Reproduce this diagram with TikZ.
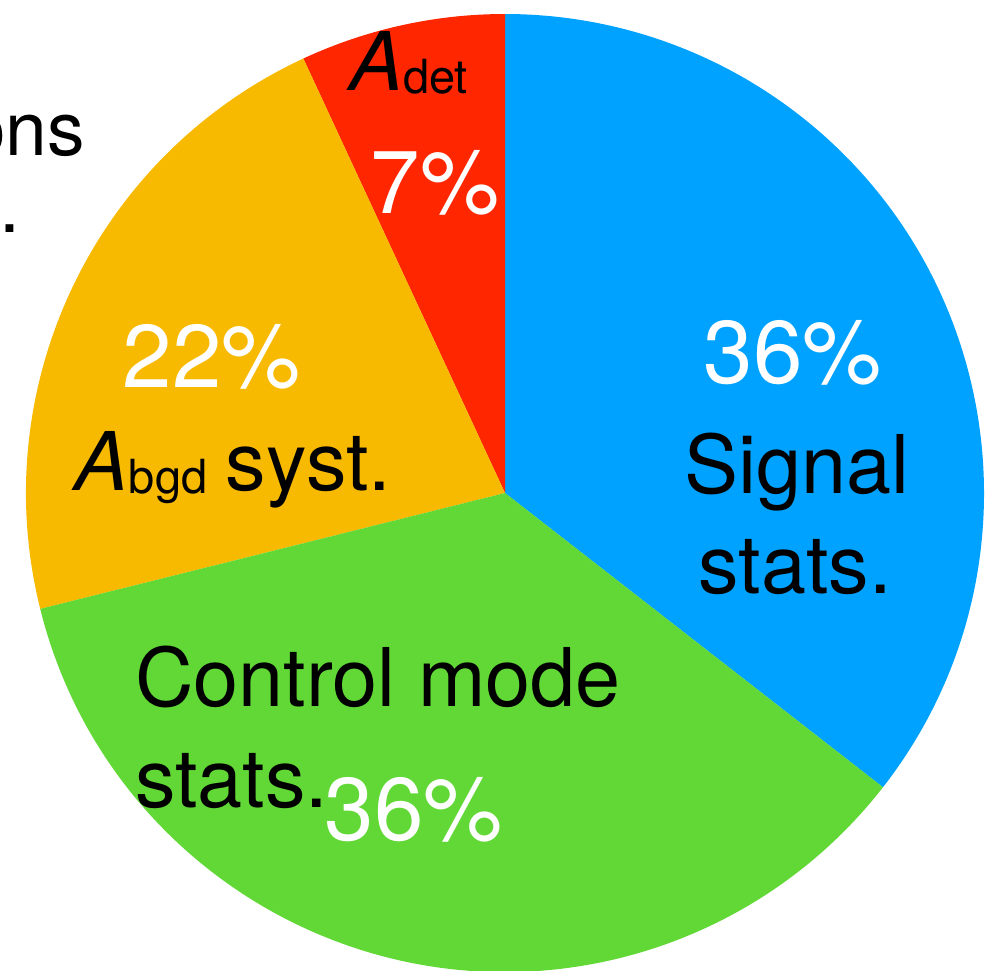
\documentclass[tikz,border=0pt]{standalone}
\usepackage{fontspec}
\setmainfont{TeX Gyre Heros}
\usetikzlibrary{positioning}

\definecolor{sigblue}{RGB}{0,162,255}
\definecolor{ctrlgreen}{RGB}{97,216,54}
\definecolor{bgdyellow}{RGB}{248,186,0}
\definecolor{detred}{RGB}{255,38,0}

\newcommand{\sublabel}[2]{{\itshape #1}{\fontsize{47}{47}\selectfont\raisebox{-3pt}{#2}}}

\begin{document}
\begin{tikzpicture}[
			x=1pt, y=1pt,
			every node/.style={inner sep=0pt, outer sep=0pt},
			lbltext/.style={font=\fontsize{81}{97}\selectfont, text=black},
			pct/.style={font=\fontsize{89}{100}\selectfont, text=white}
			]
			\useasboundingbox (0,0) rectangle (995,-970);
			\coordinate (C) at (505,-493);
			
			% slices: colour / start angle / end angle
			\foreach \col/\sa/\ea in {sigblue/-37.9/90, detred/90/114.9, bgdyellow/114.9/194.0, ctrlgreen/194.0/322.1}
			\fill[\col] (C) -- ++(\sa:479) arc[start angle=\sa, end angle=\ea, radius=479] -- cycle;
			
			% Signal stats.
			\node (pctsig) [pct, anchor=base] at (793,-383) {36\%};
			\node (sig1) [lbltext, anchor=base] at (797,-493) {Signal};
			\node (sig2) [lbltext, anchor=base] at (795,-593) {stats.};
			
			% A_det
			\node (adet) [lbltext, anchor=base west] at (349,-90) {\sublabel{A}{det}};
			\node (pctdet) [pct, anchor=base] at (435,-213) {7\%};
			
			% A_bgd syst.
			\node (pctbgd) [pct, anchor=base] at (212,-387) {22\%};
			\node (abgd) [lbltext, anchor=base] at (233,-490) {\sublabel{A}{bgd}\hspace{-4pt} syst.};
			
			% Control mode stats.
			\node (ctrl1) [lbltext, anchor=base west] at (135,-706) {Control mode};
			\node (ctrl2) [lbltext, anchor=base west] at (135,-807) {stats.};
			\node (pctctrl) [pct, anchor=base] at (414,-840) {36\%};
			
			% text cut off at the left edge
			\node (ons) [lbltext, font=\fontsize{75}{90}\selectfont, anchor=base east] at (85,-155) {ons};
			\node (dot) [lbltext, font=\fontsize{75}{90}\selectfont, anchor=base east] at (20,-232) {.};
		\end{tikzpicture}
\end{document}
